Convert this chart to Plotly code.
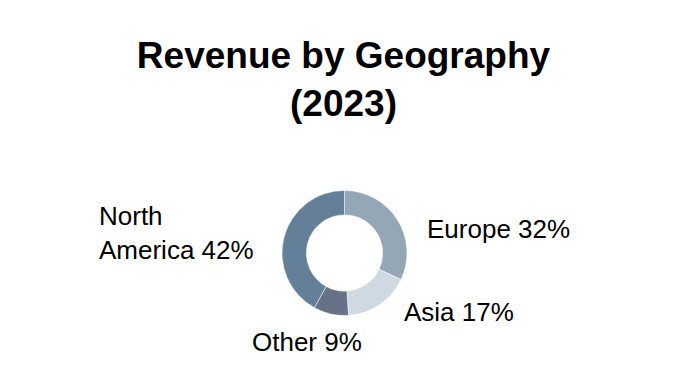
import plotly.graph_objects as go

regions = ["Europe", "Asia", "Other", "North America"]
label_text = ["Europe 32%", "Asia 17%", "Other 9%", "North<br>America 42%"]
shares = [32, 17, 9, 42]
colors = ["#93a7b7", "#cfd9e1", "#687286", "#647f98"]

# the page body adds an 8px margin, so page coordinates are shifted by it
OFF = 8
W, H = 688, 388

# label placement (page pixels): left edge x, vertical centre y
label_pos = [(425, 229), (402, 312), (250, 342), (97, 233)]
left, right, top, bottom = 282, 407, 190, 316
FONT = "Liberation Sans, Arial, sans-serif"

fig = go.Figure(go.Pie(
    labels=regions,
    values=shares,
    textinfo="none",
    hole=0.61,
    sort=False,
    direction="clockwise",
    rotation=0,
    marker=dict(colors=colors, line=dict(color="white", width=0.5)),
    showlegend=False,
    domain=dict(
        x=[(left - OFF) / W, (right - OFF) / W],
        y=[(H - bottom + OFF) / H, (H - top + OFF) / H],
    ),
    hoverinfo="label+percent",
))

for txt, (px, py) in zip(label_text, label_pos):
    fig.add_annotation(
        text=txt, x=(px - OFF) / W, y=1 - (py - OFF) / H,
        xref="paper", yref="paper",
        xanchor="left", yanchor="middle", align="left", showarrow=False,
        font=dict(family=FONT, size=26, color="black"),
    )

fig.update_layout(
    width=W, height=H,
    margin=dict(l=0, r=0, t=0, b=0),
    paper_bgcolor="white",
    plot_bgcolor="white",
    title=dict(
        text="<b>Revenue by Geography<br>(2023)</b>",
        x=(343.5 - OFF) / W, xanchor="center",
        y=1 - 60 / H, yanchor="top",
        font=dict(family=FONT, size=37, color="black"),
    ),
)

fig.write_html("out.html")
